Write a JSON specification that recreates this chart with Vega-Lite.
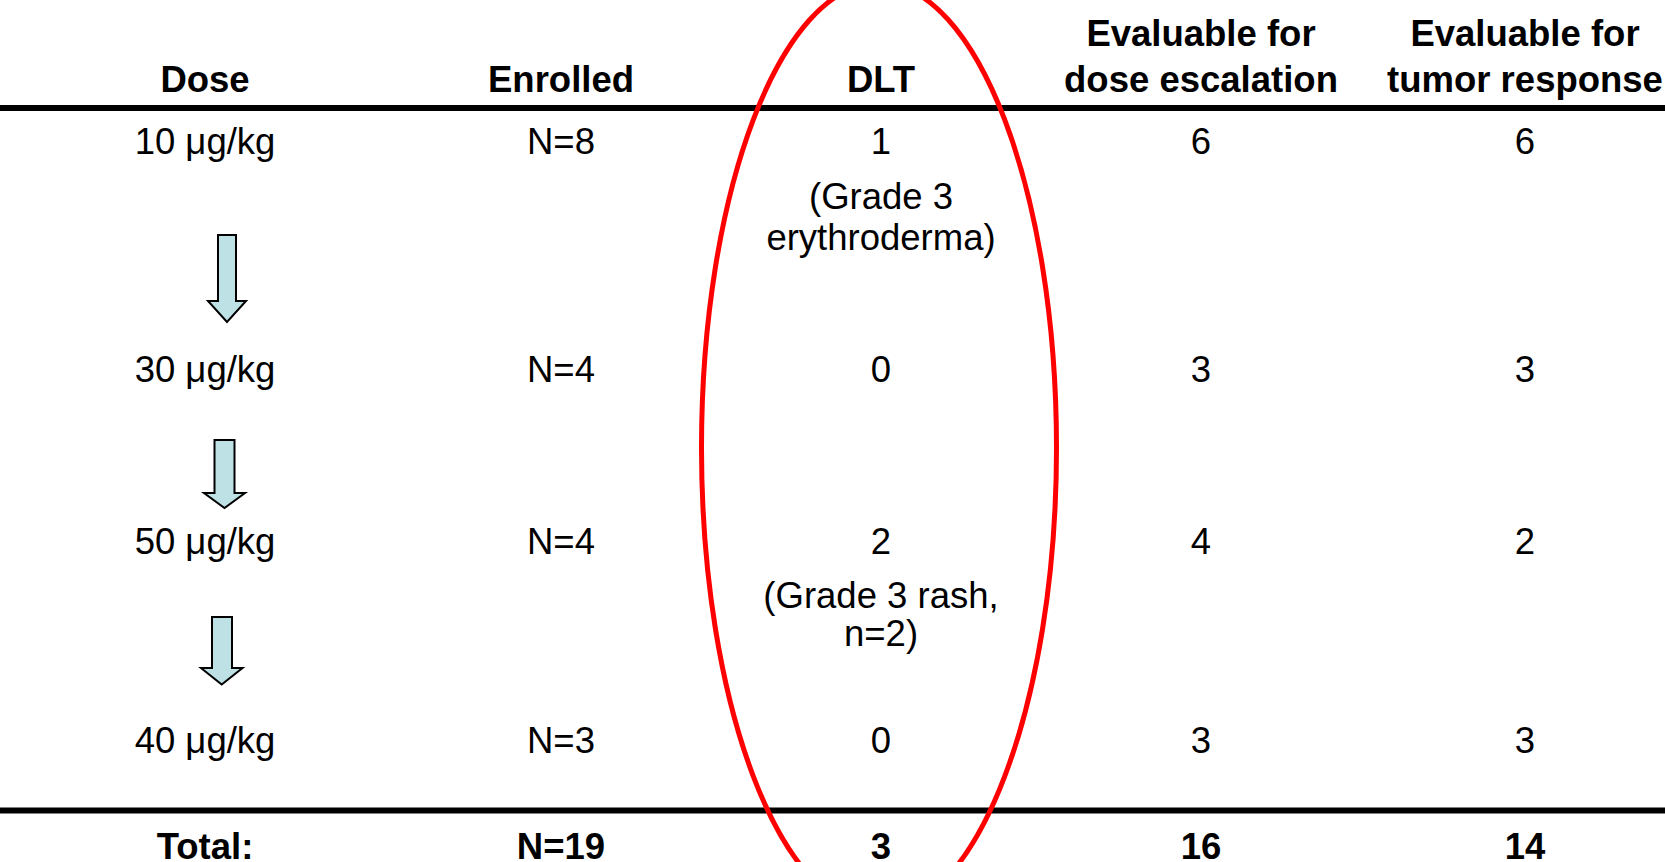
{
  "$schema": "https://vega.github.io/schema/vega-lite/v6.json",
  "width": 1665,
  "height": 862,
  "autosize": "none",
  "padding": 0,
  "background": "white",
  "config": {"view": {"stroke": null}, "text": {"font": "Liberation Sans"}},
  "datasets": {
    "header": [
      {"col": 1, "line": 1, "text": "Dose"},
      {"col": 2, "line": 1, "text": "Enrolled"},
      {"col": 3, "line": 1, "text": "DLT"},
      {"col": 4, "line": 0, "text": "Evaluable for"},
      {"col": 4, "line": 1, "text": "dose escalation"},
      {"col": 5, "line": 0, "text": "Evaluable for"},
      {"col": 5, "line": 1, "text": "tumor response"},
      {"col": 1, "line": 15, "text": "Total:"},
      {"col": 2, "line": 15, "text": "N=19"},
      {"col": 3, "line": 15, "text": "3"},
      {"col": 4, "line": 15, "text": "16"},
      {"col": 5, "line": 15, "text": "14"}
    ],
    "body": [
      {"col": 1, "line": 3, "text": "10 μg/kg"},
      {"col": 2, "line": 3, "text": "N=8"},
      {"col": 3, "line": 3, "text": "1"},
      {"col": 4, "line": 3, "text": "6"},
      {"col": 5, "line": 3, "text": "6"},
      {"col": 3, "line": 4, "text": "(Grade 3"},
      {"col": 3, "line": 5, "text": "erythroderma)"},
      {"col": 1, "line": 7, "text": "30 μg/kg"},
      {"col": 2, "line": 7, "text": "N=4"},
      {"col": 3, "line": 7, "text": "0"},
      {"col": 4, "line": 7, "text": "3"},
      {"col": 5, "line": 7, "text": "3"},
      {"col": 1, "line": 9, "text": "50 μg/kg"},
      {"col": 2, "line": 9, "text": "N=4"},
      {"col": 3, "line": 9, "text": "2"},
      {"col": 4, "line": 9, "text": "4"},
      {"col": 5, "line": 9, "text": "2"},
      {"col": 3, "line": 10, "text": "(Grade 3 rash,"},
      {"col": 3, "line": 11, "text": "n=2)"},
      {"col": 1, "line": 13, "text": "40 μg/kg"},
      {"col": 2, "line": 13, "text": "N=3"},
      {"col": 3, "line": 13, "text": "0"},
      {"col": 4, "line": 13, "text": "3"},
      {"col": 5, "line": 13, "text": "3"}
    ],
    "rules": [{"line": 2, "rule": "header"}, {"line": 14, "rule": "total"}],
    "arrows": [
      {"col": 1, "line": 6, "step": "10 to 30"},
      {"col": 1, "line": 8, "step": "30 to 50"},
      {"col": 1, "line": 12, "step": "50 to 40"}
    ],
    "highlight": [{"col": 3, "line": 8, "label": "DLT"}]
  },
  "layer": [
    {
      "data": {"name": "rules"},
      "mark": {"type": "rule", "color": "black", "strokeWidth": 6},
      "encoding": {
        "y": {"field": "line", "type": "quantitative", "axis": null,
          "scale": {"domain": [0,1,2,3,4,5,6,7,8,9,10,11,12,13,14,15], "range": [46,92,108,154,209,250,279,382,474,554,608,646,651,753,810.5,859], "nice": false, "zero": false}}
      }
    },
    {
      "data": {"name": "arrows"},
      "mark": {"type": "point", "filled": true, "fill": "#bde1e5", "stroke": "black", "strokeWidth": 2, "opacity": 1, "fillOpacity": 1, "strokeOpacity": 1, "size": 4},
      "encoding": {
        "x": {"field": "col", "type": "quantitative", "axis": null,
          "scale": {"domain": [1,2,3,4,5], "range": [205,561,881,1201,1525], "nice": false, "zero": false}},
        "y": {"field": "line", "type": "quantitative", "axis": null,
          "scale": {"domain": [0,1,2,3,4,5,6,7,8,9,10,11,12,13,14,15], "range": [46,92,108,154,209,250,279,382,474,554,608,646,651,753,810.5,859], "nice": false, "zero": false}},
        "shape": {"field": "step", "type": "nominal", "legend": null,
          "scale": {"domain": ["10 to 30", "30 to 50", "50 to 40"],
            "range": ["M13,-44 L31,-44 L31,22 L41,22 L22,43 L3,22 L13,22 Z", "M9.5,-34 L29.5,-34 L29.5,19 L40,19 L19.5,34 L-1,19 L9.5,19 Z", "M7,-34 L27,-34 L27,17 L37.5,17 L16.7,33.5 L-4,17 L7,17 Z"]}}
      }
    },
    {
      "data": {"name": "body"},
      "mark": {"type": "text", "fontSize": 36.5, "align": "center", "baseline": "alphabetic", "color": "black"},
      "encoding": {
        "x": {"field": "col", "type": "quantitative", "axis": null,
          "scale": {"domain": [1,2,3,4,5], "range": [205,561,881,1201,1525], "nice": false, "zero": false}},
        "y": {"field": "line", "type": "quantitative", "axis": null,
          "scale": {"domain": [0,1,2,3,4,5,6,7,8,9,10,11,12,13,14,15], "range": [46,92,108,154,209,250,279,382,474,554,608,646,651,753,810.5,859], "nice": false, "zero": false}},
        "text": {"field": "text", "type": "nominal"}
      }
    },
    {
      "data": {"name": "header"},
      "mark": {"type": "text", "fontSize": 36.5, "fontWeight": "bold", "align": "center", "baseline": "alphabetic", "color": "black"},
      "encoding": {
        "x": {"field": "col", "type": "quantitative", "axis": null,
          "scale": {"domain": [1,2,3,4,5], "range": [205,561,881,1201,1525], "nice": false, "zero": false}},
        "y": {"field": "line", "type": "quantitative", "axis": null,
          "scale": {"domain": [0,1,2,3,4,5,6,7,8,9,10,11,12,13,14,15], "range": [46,92,108,154,209,250,279,382,474,554,608,646,651,753,810.5,859], "nice": false, "zero": false}},
        "text": {"field": "text", "type": "nominal"}
      }
    },
    {
      "data": {"name": "highlight"},
      "mark": {"type": "point", "filled": false, "stroke": "#ff0000", "strokeWidth": 5, "opacity": 1, "strokeOpacity": 1, "size": 4,
        "shape": "M-2,-491 C96,-491 175.5,-282.8 175.5,-26 C175.5,230.8 96,439 -2,439 C-100,439 -179.5,230.8 -179.5,-26 C-179.5,-282.8 -100,-491 -2,-491 Z"},
      "encoding": {
        "x": {"field": "col", "type": "quantitative", "axis": null,
          "scale": {"domain": [1,2,3,4,5], "range": [205,561,881,1201,1525], "nice": false, "zero": false}},
        "y": {"field": "line", "type": "quantitative", "axis": null,
          "scale": {"domain": [0,1,2,3,4,5,6,7,8,9,10,11,12,13,14,15], "range": [46,92,108,154,209,250,279,382,474,554,608,646,651,753,810.5,859], "nice": false, "zero": false}}
      }
    }
  ]
}
